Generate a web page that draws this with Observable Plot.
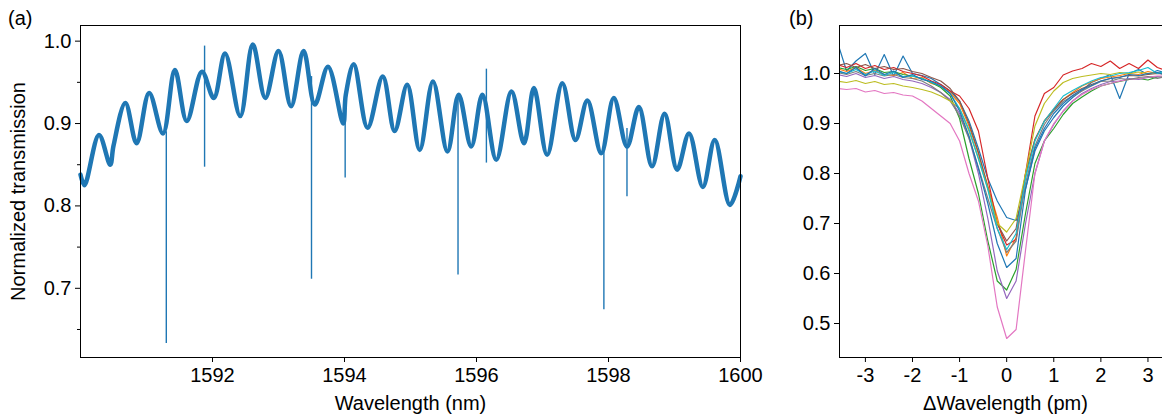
<!DOCTYPE html>
<html><head><meta charset="utf-8">
<script src="https://cdn.jsdelivr.net/npm/d3@7"></script>
<script src="https://cdn.jsdelivr.net/npm/@observablehq/plot@0.6"></script>
<style>
html,body{margin:0;padding:0;background:#fff;overflow:hidden}
#wrap{position:relative;width:1162px;height:418px;font-family:"Liberation Sans",Arial,sans-serif;overflow:hidden;background:#fff}
.panel{position:absolute;top:0}
.tag{position:absolute;font-size:20px;line-height:24px;color:#000}
</style></head><body><div id="wrap"></div>
<script>
// ---------- Panel (a): transmission spectrum ----------
const wavelength = [1590.00,1590.06,1590.28,1590.45,1590.50,1590.68,1590.85,1591.04,1591.25,1591.43,1591.61,1591.84,1592.02,1592.19,1592.42,1592.61,1592.80,1593.00,1593.19,1593.38,1593.55,1593.75,1593.98,1594.02,1594.14,1594.35,1594.58,1594.76,1594.95,1595.14,1595.34,1595.56,1595.73,1595.92,1596.09,1596.30,1596.53,1596.72,1596.87,1597.07,1597.30,1597.50,1597.68,1597.89,1598.08,1598.28,1598.46,1598.66,1598.85,1599.04,1599.22,1599.43,1599.61,1599.84,1600.00];
const transmission = [0.838,0.825,0.886,0.850,0.873,0.925,0.876,0.937,0.888,0.965,0.903,0.963,0.931,0.985,0.909,0.996,0.931,0.988,0.921,0.988,0.923,0.969,0.900,0.935,0.972,0.895,0.957,0.891,0.947,0.868,0.951,0.866,0.935,0.872,0.935,0.856,0.939,0.876,0.943,0.862,0.949,0.880,0.928,0.864,0.931,0.872,0.920,0.848,0.912,0.844,0.888,0.823,0.880,0.801,0.836];
// narrow resonances: position, lowest and highest value of the spike
const dipWavelength = [1591.30,1591.88,1593.50,1594.01,1595.72,1596.15,1597.93,1598.28];
const dipLow  = [0.633,0.847,0.711,0.834,0.716,0.852,0.674,0.811];
const dipHigh = [0.890,0.994,0.957,0.935,0.935,0.966,0.870,0.894];
const xTicksA = [1592,1594,1596,1598,1600];
const yTicksA = [0.7,0.8,0.9,1.0];
const yMinorA = [0.65,0.75,0.85,0.95];

// ---------- Panel (b): overlaid resonances ----------
const delta = [-3.6,-3.4,-3.2,-3.0,-2.8,-2.6,-2.4,-2.2,-2.0,-1.8,-1.6,-1.4,-1.2,-1.0,-0.8,-0.6,-0.4,-0.2,0,0.2,0.4,0.6,0.8,1.0,1.2,1.4,1.6,1.8,2.0,2.2,2.4,2.6,2.8,3.0,3.2,3.4];
const blueA  = [1.065,1.005,1.025,1.040,0.998,1.038,0.995,1.035,1.000,0.996,0.990,0.978,0.965,0.945,0.905,0.850,0.790,0.745,0.712,0.706,0.770,0.845,0.885,0.912,0.935,0.952,0.966,0.982,0.990,0.998,0.950,1.000,1.008,0.998,1.006,1.000];
const orange = [1.010,1.004,1.012,1.000,1.006,0.998,0.996,1.002,0.990,0.992,0.980,0.975,0.962,0.940,0.895,0.840,0.775,0.712,0.635,0.672,0.800,0.868,0.905,0.928,0.948,0.962,0.975,0.983,0.990,0.993,0.996,1.000,0.998,1.004,1.000,1.002];
const green  = [1.012,1.008,1.014,1.006,1.010,1.002,1.004,0.998,0.995,0.990,0.982,0.972,0.955,0.910,0.830,0.760,0.665,0.585,0.567,0.608,0.720,0.820,0.865,0.890,0.918,0.940,0.953,0.965,0.975,0.980,0.984,0.988,0.990,0.987,0.993,0.994];
const red    = [1.018,1.012,1.020,1.010,1.016,1.008,1.012,1.004,1.000,0.995,0.985,0.978,0.965,0.955,0.930,0.885,0.790,0.700,0.657,0.668,0.800,0.915,0.960,0.972,0.997,1.005,1.010,1.020,1.014,1.025,1.010,1.020,1.010,1.027,1.012,1.005];
const purple = [0.998,0.994,1.000,0.992,0.996,0.990,0.994,0.988,0.985,0.980,0.972,0.962,0.948,0.920,0.872,0.800,0.710,0.605,0.550,0.585,0.700,0.800,0.865,0.898,0.925,0.945,0.960,0.970,0.978,0.984,0.985,0.990,0.988,0.992,0.994,0.990];
const brown  = [1.016,1.020,1.012,1.018,1.010,1.014,1.008,1.010,1.004,1.000,0.992,0.985,0.970,0.945,0.900,0.842,0.772,0.700,0.665,0.690,0.798,0.868,0.905,0.928,0.948,0.960,0.970,0.978,0.985,0.990,0.993,0.996,0.995,0.998,1.000,0.998];
const pink   = [0.970,0.968,0.970,0.963,0.966,0.960,0.962,0.957,0.955,0.945,0.930,0.915,0.900,0.865,0.800,0.745,0.655,0.533,0.470,0.488,0.646,0.800,0.865,0.900,0.925,0.945,0.958,0.968,0.975,0.980,0.985,0.988,0.990,0.993,0.995,0.995];
const gray   = [1.002,0.998,1.004,0.996,1.000,0.995,0.998,0.992,0.990,0.985,0.975,0.962,0.945,0.915,0.870,0.812,0.750,0.690,0.642,0.665,0.780,0.855,0.898,0.925,0.944,0.955,0.965,0.975,0.984,0.985,0.990,0.988,0.992,0.994,0.990,0.995];
const olive  = [0.985,0.982,0.986,0.980,0.984,0.978,0.980,0.975,0.972,0.968,0.963,0.955,0.945,0.930,0.885,0.830,0.770,0.700,0.683,0.710,0.800,0.895,0.940,0.965,0.982,0.990,0.994,0.997,1.000,0.998,1.002,1.000,1.003,1.000,1.002,1.000];
const cyan   = [1.004,1.000,1.008,0.998,1.005,0.996,1.002,0.994,0.995,0.990,0.982,0.975,0.960,0.930,0.888,0.830,0.768,0.690,0.648,0.680,0.790,0.865,0.905,0.930,0.955,0.966,0.976,0.985,0.992,0.995,1.000,1.002,1.006,1.012,1.000,1.006];
const blueB  = [1.006,1.000,1.012,0.995,1.010,0.998,1.005,0.992,0.998,0.988,0.984,0.975,0.960,0.925,0.875,0.810,0.740,0.660,0.612,0.630,0.768,0.850,0.890,0.920,0.940,0.956,0.968,0.976,0.985,0.990,0.992,0.998,0.996,1.000,1.002,0.996];
const seriesB = [blueA, orange, green, red, purple, brown, pink, gray, olive, cyan, blueB];
const colorsB = ["#1f77b4","#ff7f0e","#2ca02c","#d62728","#9467bd","#8c564b","#e377c2","#7f7f7f","#bcbd22","#17becf","#1f77b4"];
const xTicksB = [-3,-2,-1,0,1,2,3];
const yTicksB = [0.5,0.6,0.7,0.8,0.9,1.0];

const font = {fontFamily: "'Liberation Sans', Arial, sans-serif", fontSize: "20px", color: "#000", background: "transparent", overflow: "visible"};
const f1 = d3.format(".1f");

const rowsA = wavelength.map((w, i) => ({w, t: transmission[i]}));
const dipsA = dipWavelength.map((w, i) => ({w, lo: dipLow[i], hi: dipHigh[i]}));

const plotA = Plot.plot({
  width: 760, height: 418,
  marginLeft: 80, marginRight: 20, marginTop: 25, marginBottom: 61,
  style: font,
  x: {domain: [1590, 1600]},
  y: {domain: [0.616, 1.019]},
  marks: [
    Plot.line(rowsA, {x: "w", y: "t", stroke: "#1f77b4", strokeWidth: 4.5, curve: "catmull-rom", strokeLinejoin: "round", strokeLinecap: "round"}),
    Plot.ruleX(dipsA, {x: "w", y1: "lo", y2: "hi", stroke: "#1f77b4", strokeWidth: 1.4}),
    Plot.frame({stroke: "#000", strokeWidth: 1}),
    Plot.axisY(yMinorA, {tickSize: 3, tickFormat: () => "", label: null, stroke: "#000"}),
    Plot.axisY(yTicksA, {tickSize: 5, tickPadding: 4, tickFormat: f1, label: "Normalized transmission", labelAnchor: "center", labelArrow: false, labelOffset: 70, stroke: "#000"}),
    Plot.axisX(xTicksA, {tickSize: 5, tickPadding: 5, tickFormat: d => String(d), label: "Wavelength (nm)", labelAnchor: "center", labelArrow: false, labelOffset: 52, stroke: "#000"})
  ]
});

const marksB = seriesB.map((vals, k) =>
  Plot.line(delta.map((d, i) => ({d, v: vals[i]})), {x: "d", y: "v", stroke: colorsB[k], strokeWidth: 1.2, clip: true}));

const plotB = Plot.plot({
  width: 420, height: 418,
  marginLeft: 79, marginRight: 9, marginTop: 25, marginBottom: 61,
  style: font,
  x: {domain: [-3.55, 3.5]},
  y: {domain: [0.432, 1.096]},
  marks: [
    ...marksB,
    Plot.frame({stroke: "#000", strokeWidth: 1}),
    Plot.axisY(yTicksB, {tickSize: 5, tickPadding: 4, tickFormat: f1, label: null, stroke: "#000"}),
    Plot.axisX(xTicksB, {tickSize: 5, tickPadding: 5, tickFormat: d => String(d), label: "ΔWavelength (pm)", labelAnchor: "center", labelArrow: false, labelOffset: 52, stroke: "#000"})
  ]
});

const wrap = document.getElementById("wrap");
plotA.classList.add("panel"); plotA.style.left = "0px";
plotB.classList.add("panel"); plotB.style.left = "760px";
wrap.appendChild(plotA);
wrap.appendChild(plotB);
const ta = document.createElement("div"); ta.className = "tag"; ta.textContent = "(a)"; ta.style.left = "8px"; ta.style.top = "6px";
const tb = document.createElement("div"); tb.className = "tag"; tb.textContent = "(b)"; tb.style.left = "789px"; tb.style.top = "6px";
wrap.appendChild(ta); wrap.appendChild(tb);
</script></body></html>
